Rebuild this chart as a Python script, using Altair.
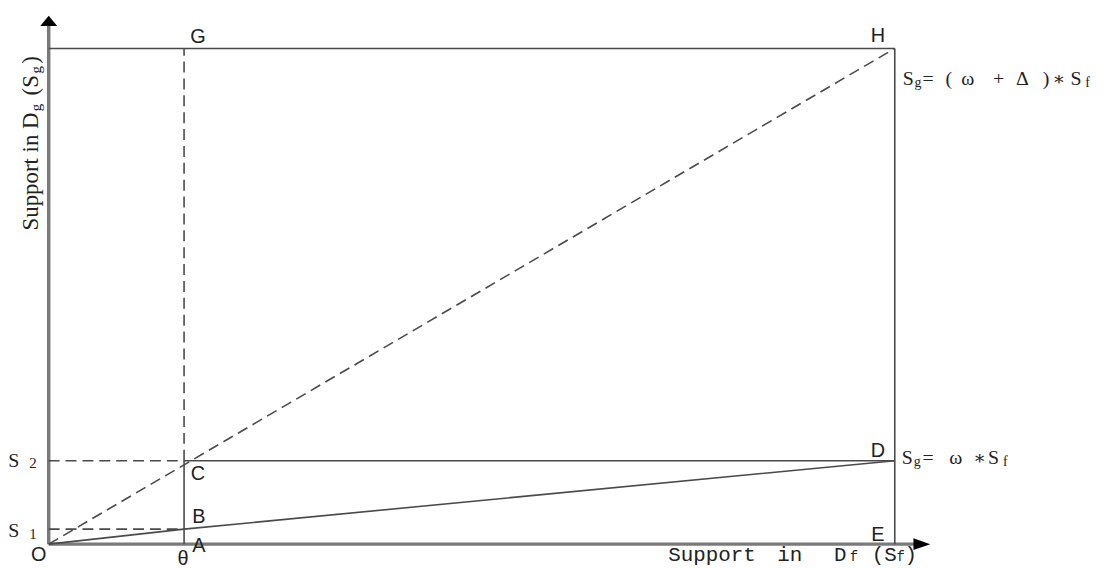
import altair as alt
import pandas as pd

# ---- diagram values (data units) ----
theta = 1.0          # threshold on Sf (point A)
s1 = 0.18            # level s1 (point B)
s2 = 1.0             # level s2 (points C, D)
x_end = 6.25         # abscissa of D, E, H
y_top = 5.94         # ordinate of G, H
x_axis_end = 6.45    # x-axis arrow position
y_axis_end = 6.27    # y-axis arrow position

point_names = ["O", "A", "B", "C", "D", "E", "G", "H"]
point_x = [0.0, theta, theta, theta, x_end, x_end, theta, x_end]
point_y = [0.0, 0.0, s1, s2, s2, 0.0, y_top, y_top]
P = {n: (px, py) for n, px, py in zip(point_names, point_x, point_y)}

solid_segments = [
    [(0.0, y_top), P["H"]],            # top edge
    [P["E"], P["H"]],                  # right edge
    [P["C"], P["D"]],                  # C-D
    [P["A"], P["C"]],                  # A-C
    [P["O"], P["B"], P["D"]],          # Sg = w*Sf
]
dashed_segments = [
    [P["O"], P["H"]],                  # Sg = (w+d)*Sf
    [P["C"], P["G"]],                  # C-G
    [(0.0, s2), P["C"]],               # s2 level
    [(0.0, s1), P["B"]],               # s1 level
]
axis_segments = [
    [(0.0, 0.0), (x_axis_end, 0.0)],
    [(0.0, 0.0), (0.0, y_axis_end)],
]


def seg_frame(segs):
    rows = []
    for i, seg in enumerate(segs):
        for j, (sx, sy) in enumerate(seg):
            rows.append({"seg": i, "order": j, "x": sx, "y": sy})
    return pd.DataFrame(rows)


xs = alt.Scale(domain=[0, 6.6], nice=False, zero=False)
ys = alt.Scale(domain=[0, 6.4], nice=False, zero=False)
X = alt.X("x:Q", scale=xs, axis=None)
Y = alt.Y("y:Q", scale=ys, axis=None)

LINE = "#4a4a4a"
AXIS = "#7a7a7a"
TXT = "#222222"
SERIF = "Liberation Serif"
SANS = "Liberation Sans"
MONO = "Liberation Mono"
STAR = "DejaVu Serif"

layers = []

layers.append(
    alt.Chart(seg_frame(axis_segments)).mark_line(color=AXIS, strokeWidth=3.5, strokeCap="butt")
    .encode(x=X, y=Y, detail="seg:N", order="order:Q")
)
layers.append(
    alt.Chart(seg_frame(solid_segments)).mark_line(color=LINE, strokeWidth=1.6, strokeCap="butt")
    .encode(x=X, y=Y, detail="seg:N", order="order:Q")
)
layers.append(
    alt.Chart(seg_frame(dashed_segments)).mark_line(color=LINE, strokeWidth=1.6, strokeDash=[11, 6], strokeCap="butt")
    .encode(x=X, y=Y, detail="seg:N", order="order:Q")
)

# arrow heads
layers.append(
    alt.Chart(pd.DataFrame({"x": [x_axis_end], "y": [0.0]}))
    .mark_point(shape="M-1,-0.7L1,0L-1,0.7Z", filled=True, size=289, color="#000000", opacity=1)
    .encode(x=X, y=Y)
)
layers.append(
    alt.Chart(pd.DataFrame({"x": [0.0], "y": [y_axis_end]}))
    .mark_point(shape="M-1,0.6L0,-0.6L1,0.6Z", filled=True, size=289, color="#000000", opacity=1)
    .encode(x=X, y=Y)
)


def txt(anchor, text, dx, dy, size, font, align="center", baseline="middle", angle=None):
    ax, ay = P[anchor]
    kw = dict(dx=dx, dy=dy, fontSize=size, font=font, align=align, baseline=baseline, color=TXT)
    if angle is not None:
        kw["angle"] = angle
    return alt.Chart(pd.DataFrame({"x": [ax], "y": [ay], "t": [text]})).mark_text(**kw).encode(
        x=X, y=Y, text="t:N"
    )


# point letters
letters = [
    ("G", "G", 14, -11), ("H", "H", -17, -12), ("C", "C", 14, 13), ("B", "B", 15, -12),
    ("A", "A", 15, 2), ("A", "θ", -1, 15), ("O", "O", -10, 11), ("D", "D", -17, -10),
    ("E", "E", -17, -9),
]
for anc, t, dx, dy in letters:
    layers.append(txt(anc, t, dx, dy, 20, SANS))

# level labels s2 / s1
layers.append(txt("C", "S", -137 - 29, 0, 20, SERIF, align="right"))
layers.append(txt("C", "2", -137 - 19, 2, 15, SERIF, align="left"))
layers.append(txt("B", "S", -137 - 29, 2, 20, SERIF, align="right"))
layers.append(txt("B", "1", -137 - 19, 5, 15, SERIF, align="left"))

# line formulas
h_pieces = [("S", 8, 0), ("g", 20, 1), ("=", 28, 0), ("(", 51, 0), ("ω", 67, 0), ("+", 99, 0),
            ("Δ", 122, 0), (")", 149, 0), ("∗", 159, 0), ("S", 177, 0), ("f", 192, 1)]
for t, dx, sub in h_pieces:
    layers.append(txt("H", t, dx, 31 + (4 if sub else 0), 14 if sub else (19 if t == "∗" else 20),
                      STAR if t == "∗" else SERIF, align="left"))
d_pieces = [("S", 7, 0), ("g", 19, 1), ("=", 28, 0), ("ω", 55, 0), ("∗", 79, 0), ("S", 94, 0), ("f", 109, 1)]
for t, dx, sub in d_pieces:
    layers.append(txt("D", t, dx, -3 + (4 if sub else 0), 14 if sub else (19 if t == "∗" else 20),
                      STAR if t == "∗" else SERIF, align="left"))

# x-axis title
xt = [("Support", 624, 21), ("in", 734, 21), ("D", 791, 21), ("f", 807, 14), ("(S", 829, 21),
      ("f", 854, 14), (")", 862, 21)]
for t, dx, size in xt:
    layers.append(txt("O", t, dx, 17, size, MONO, align="left", baseline="alphabetic"))

# y-axis title (rotated, offsets in rotated frame)
yt = [("Support in D", 316, 23, 0), ("g", 436, 15, 1), ("(S", 452, 23, 0), ("g", 474, 15, 1), (")", 484, 23, 0)]
for t, dx, size, sub in yt:
    layers.append(txt("O", t, dx, -11 + (3 if sub else 0), size, SERIF, align="left",
                      baseline="alphabetic", angle=270))

chart = (
    alt.layer(*layers)
    .properties(
        width=900,
        height=538,
        autosize=alt.AutoSizeParams(type="none"),
        padding={"left": 41, "top": 0, "right": 158, "bottom": 23},
        background="white",
    )
    .configure_view(stroke=None)
)

chart.save("out.html", embed_options={"renderer": "svg", "actions": False})
